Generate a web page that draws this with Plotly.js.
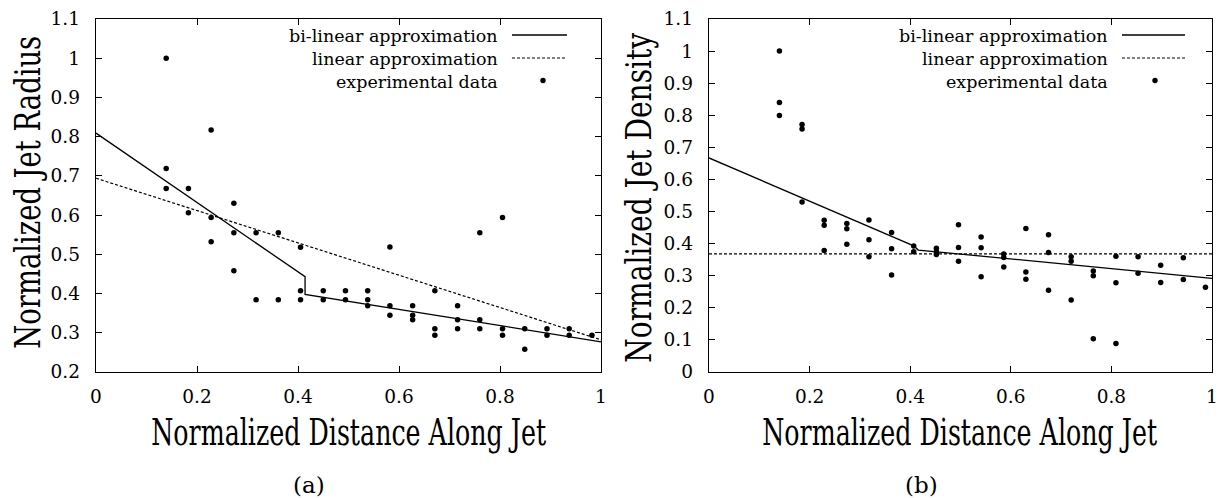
<!DOCTYPE html>
<html>
<head>
<meta charset="utf-8">
<script src="https://cdn.plot.ly/plotly-3.0.1.min.js"></script>
<style>
  html, body { margin: 0; padding: 0; background: #fff; }
  #chart { width: 1225px; height: 498px; }
</style>
</head>
<body>
<div id="chart"></div>
<script>
// ---- Panel (a): Normalized Jet Radius ----
const radiusX = [
  0.139, 0.139, 0.139,
  0.183, 0.183,
  0.228, 0.228, 0.228,
  0.273, 0.273, 0.273,
  0.317, 0.317,
  0.361, 0.361,
  0.405, 0.405, 0.405,
  0.450, 0.450,
  0.494, 0.494,
  0.538, 0.538, 0.538,
  0.582, 0.582, 0.582,
  0.627, 0.627, 0.627,
  0.671, 0.671, 0.671,
  0.716, 0.716, 0.716,
  0.760, 0.760, 0.760,
  0.805, 0.805, 0.805,
  0.849, 0.849,
  0.893, 0.893,
  0.937, 0.937,
  0.982
];
const radiusY = [
  1.000, 0.719, 0.668,
  0.668, 0.606,
  0.817, 0.594, 0.532,
  0.630, 0.555, 0.458,
  0.555, 0.384,
  0.555, 0.384,
  0.518, 0.407, 0.384,
  0.407, 0.384,
  0.407, 0.384,
  0.407, 0.384, 0.369,
  0.519, 0.369, 0.345,
  0.369, 0.345, 0.333,
  0.407, 0.310, 0.294,
  0.369, 0.333, 0.310,
  0.555, 0.333, 0.310,
  0.594, 0.310, 0.294,
  0.310, 0.258,
  0.310, 0.294,
  0.310, 0.294,
  0.294
];
const radiusBiX = [0, 0.414, 0.414, 1];
const radiusBiY = [0.809, 0.443, 0.398, 0.277];
const radiusLinX = [0, 1];
const radiusLinY = [0.694, 0.282];

// ---- Panel (b): Normalized Jet Density ----
const densityX = [
  0.140, 0.140, 0.140,
  0.185, 0.185, 0.185,
  0.229, 0.229, 0.229,
  0.274, 0.274, 0.274,
  0.318, 0.318, 0.318,
  0.363, 0.363, 0.363,
  0.407, 0.407,
  0.452, 0.452, 0.452,
  0.496, 0.496, 0.496,
  0.541, 0.541, 0.541,
  0.586, 0.586, 0.586,
  0.630, 0.630, 0.630,
  0.675, 0.675, 0.675,
  0.720, 0.720, 0.720,
  0.764, 0.764, 0.764,
  0.809, 0.809, 0.809,
  0.853, 0.853,
  0.898, 0.898,
  0.943, 0.943,
  0.987
];
const densityY = [
  1.000, 0.840, 0.799,
  0.771, 0.757, 0.530,
  0.473, 0.457, 0.379,
  0.463, 0.446, 0.398,
  0.474, 0.412, 0.359,
  0.435, 0.384, 0.302,
  0.393, 0.375,
  0.386, 0.375, 0.366,
  0.459, 0.388, 0.345,
  0.421, 0.387, 0.297,
  0.368, 0.357, 0.327,
  0.447, 0.312, 0.289,
  0.428, 0.372, 0.255,
  0.359, 0.345, 0.224,
  0.315, 0.300, 0.104,
  0.361, 0.278, 0.089,
  0.359, 0.308,
  0.333, 0.279,
  0.356, 0.288,
  0.264
];
const densityBiX = [0, 0.407, 0.416, 1];
const densityBiY = [0.667, 0.393, 0.380, 0.292];
const densityLinX = [0, 1];
const densityLinY = [0.368, 0.368];

// ---- Text ----
const legendLabels = ["bi-linear approximation", "linear approximation", "experimental data"];
const xTitle = "Normalized Distance Along Jet";
const yTitleA = "Normalized Jet Radius";
const yTitleB = "Normalized Jet Density";
const panelLabels = ["(a)", "(b)"];
const tickValsX = [0, 0.2, 0.4, 0.6, 0.8, 1];
const tickTextX = ["0", "0.2", "0.4", "0.6", "0.8", "1"];
const tickValsYA = [0.2, 0.3, 0.4, 0.5, 0.6, 0.7, 0.8, 0.9, 1, 1.1];
const tickTextYA = ["0.2", "0.3", "0.4", "0.5", "0.6", "0.7", "0.8", "0.9", "1", "1.1"];
const tickValsYB = [0, 0.1, 0.2, 0.3, 0.4, 0.5, 0.6, 0.7, 0.8, 0.9, 1, 1.1];
const tickTextYB = ["0", "0.1", "0.2", "0.3", "0.4", "0.5", "0.6", "0.7", "0.8", "0.9", "1", "1.1"];

// ---- Build ----
const W = 1225, H = 498;
const px = v => v / W;
const py = v => 1 - v / H;
const SERIF = "DejaVu Serif";
const SERIF_C = "DejaVu Serif Condensed";

const lineStyle = { color: "#000", width: 1.3 };
const dashStyle = { color: "#000", width: 1.2, dash: "3px,2px" };
const markerStyle = { color: "#000", size: 5.5 };

const traces = [
  { x: radiusBiX, y: radiusBiY, xaxis: "x", yaxis: "y", mode: "lines", line: lineStyle, name: legendLabels[0], hoverinfo: "skip" },
  { x: radiusLinX, y: radiusLinY, xaxis: "x", yaxis: "y", mode: "lines", line: dashStyle, name: legendLabels[1], hoverinfo: "skip" },
  { x: radiusX, y: radiusY, xaxis: "x", yaxis: "y", mode: "markers", marker: markerStyle, name: legendLabels[2] },
  { x: densityBiX, y: densityBiY, xaxis: "x2", yaxis: "y2", mode: "lines", line: lineStyle, name: legendLabels[0], hoverinfo: "skip" },
  { x: densityLinX, y: densityLinY, xaxis: "x2", yaxis: "y2", mode: "lines", line: dashStyle, name: legendLabels[1], hoverinfo: "skip" },
  { x: densityX, y: densityY, xaxis: "x2", yaxis: "y2", mode: "markers", marker: markerStyle, name: legendLabels[2] }
];

const axisCommon = {
  showline: true, linecolor: "#000", linewidth: 1.3, mirror: "ticks",
  ticks: "inside", ticklen: 6, tickwidth: 1, tickcolor: "#000",
  showgrid: false, zeroline: false,
  tickfont: { family: SERIF, size: 18.5, color: "#000" }
};

const yDom = [py(372), py(19)];

const layout = {
  width: W, height: H,
  margin: { l: 0, r: 0, t: 0, b: 0 },
  paper_bgcolor: "#fff", plot_bgcolor: "#fff",
  showlegend: false,
  xaxis: Object.assign({}, axisCommon, { domain: [px(96), px(601)], range: [0, 1], tickvals: tickValsX, ticktext: tickTextX, anchor: "y", ticklabelstandoff: 7 }),
  yaxis: Object.assign({}, axisCommon, { domain: yDom, range: [0.2, 1.1], tickvals: tickValsYA, ticktext: tickTextYA, anchor: "x", ticklabelstandoff: 11 }),
  xaxis2: Object.assign({}, axisCommon, { domain: [px(709), px(1212)], range: [0, 1], tickvals: tickValsX, ticktext: tickTextX, anchor: "y2", ticklabelstandoff: 7 }),
  yaxis2: Object.assign({}, axisCommon, { domain: yDom, range: [0, 1.1], tickvals: tickValsYB, ticktext: tickTextYB, anchor: "x2", ticklabelstandoff: 11 }),
  annotations: [],
  shapes: []
};

const xTitleFont = { family: SERIF_C, size: 37, color: "#000" };
const yTitleFont = { family: SERIF_C, size: 35, color: "#000" };
const legFont = { family: SERIF, size: 17.5, color: "#000" };
const ann = (text, x, y, opts) => Object.assign({ text, x: px(x), y: py(y), xref: "paper", yref: "paper", showarrow: false, xanchor: "center", yanchor: "middle" }, opts);

layout.annotations.push(
  ann(xTitle, 349, 432, { font: xTitleFont }),
  ann(xTitle, 960, 432, { font: xTitleFont }),
  ann(yTitleA, 28, 192, { font: yTitleFont, textangle: -90 }),
  ann(yTitleB, 639, 198, { font: yTitleFont, textangle: -90 }),
  ann(panelLabels[0], 309, 485, { font: { family: SERIF, size: 23, color: "#000" } }),
  ann(panelLabels[1], 921, 485, { font: { family: SERIF, size: 23, color: "#000" } })
);

// legends (text right-aligned, sample to the right, gnuplot style)
const legends = [
  { textRight: 500, x0: 512, x1: 567, dot: 543 },
  { textRight: 1110, x0: 1122, x1: 1185, dot: 1155 }
];
const rowY = [35, 58, 80.5];
legends.forEach(L => {
  legendLabels.forEach((t, i) => {
    layout.annotations.push(ann(t, L.textRight, rowY[i] + 1, { font: legFont, xanchor: "right" }));
  });
  layout.shapes.push(
    { type: "line", xref: "paper", yref: "paper", x0: px(L.x0), x1: px(L.x1), y0: py(rowY[0]), y1: py(rowY[0]), line: { color: "#000", width: 1.3 } },
    { type: "line", xref: "paper", yref: "paper", x0: px(L.x0), x1: px(L.x1), y0: py(rowY[1]), y1: py(rowY[1]), line: { color: "#000", width: 1.2, dash: "3px,2px" } },
    { type: "circle", xref: "paper", yref: "paper", x0: px(L.dot - 2.7), x1: px(L.dot + 2.7), y0: py(rowY[2] + 2.7), y1: py(rowY[2] - 2.7), fillcolor: "#000", line: { width: 0 } }
  );
});

// gnuplot-like horizontally compressed title text: target rendered lengths (px)
const titleTargetWidth = {};
titleTargetWidth[xTitle] = 395;
titleTargetWidth[yTitleA] = 313;
titleTargetWidth[yTitleB] = 330;

Plotly.newPlot("chart", traces, layout, { staticPlot: true }).then(gd => {
  gd.querySelectorAll("text.annotation-text").forEach(t => {
    const target = titleTargetWidth[t.textContent];
    if (!target) return;
    const w = t.getComputedTextLength();
    if (!w) return;
    const k = Math.min(1, target / w);
    t.style.transformBox = "fill-box";
    t.style.transformOrigin = "center";
    t.style.transform = "scaleX(" + k + ")";
  });
});
</script>
</body>
</html>
